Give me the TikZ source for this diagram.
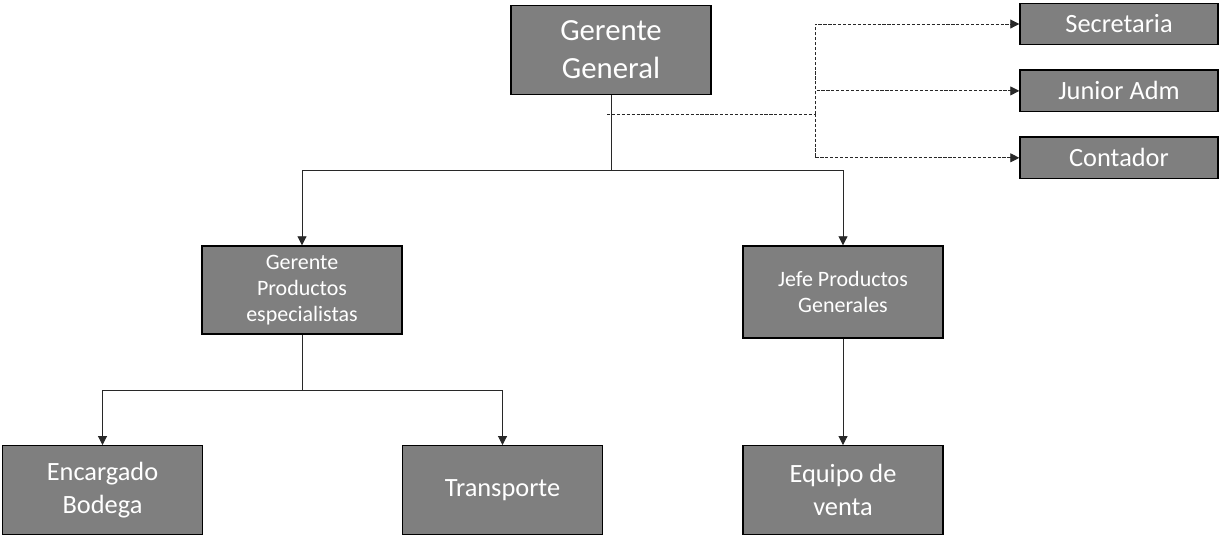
\documentclass[tikz,border=0pt]{standalone}
\usepackage{fontspec}
\setmainfont{Carlito}
\usepackage{tikz}
\usetikzlibrary{arrows.meta,positioning,calc}
\definecolor{boxgray}{RGB}{127,127,127}
\definecolor{linegray}{RGB}{40,40,40}

\begin{document}
\begin{tikzpicture}[
  unit/.style={draw=black, line width=0.8pt, fill=boxgray, text=white, align=center, inner sep=1pt},
  big/.style={unit, minimum width=4cm, minimum height=1.77cm, font=\fontsize{15}{18.5}\selectfont},
  mid/.style={unit, minimum width=4cm, minimum height=1.78cm, font=\fontsize{12.5}{15}\selectfont},
  side/.style={unit, minimum width=3.96cm, minimum height=0.83cm, font=\fontsize{15}{18}\selectfont},
  link/.style={linegray, line width=0.5pt},
  arr/.style={link, -{Triangle[length=1.8mm, width=1.8mm]}},
  dotted line/.style={link, dash pattern=on 1.8pt off 1pt}]
  \useasboundingbox (0,0) rectangle (24.42,-10.7);
  % top
  \node[unit, minimum width=4cm, minimum height=1.78cm, font=\fontsize{17.5}{21.5}\selectfont] (gg) at (12.22,-1.0) {Gerente\\General};
  % staff
  \node[side] (sec) at (22.38,-0.48) {Secretaria};
  \node[side, below=0.48cm of sec] (jun) {Junior Adm};
  \node[side, below=0.48cm of jun] (con) {Contador};
  % second level
  \node[mid, minimum height=1.76cm] (gpe) at (6.04,-5.80) {Gerente\\Productos\\especialistas};
  \node[mid, minimum height=1.84cm] (jpg) at (16.86,-5.84) {Jefe Productos\\Generales};
  % third level
  \node[big] (enc) at (2.05,-9.80) {Encargado\\Bodega};
  \node[big] (tra) at (10.05,-9.80) {Transporte};
  \node[big] (equ) at (16.86,-9.80) {Equipo de\\venta};
  % junctions
  \coordinate (split1) at (12.22,-3.40);
  \coordinate (split2) at (6.04,-7.80);
  \coordinate (dstart) at (12.14,-2.28);
  \coordinate (dsplit) at (16.30,-2.28);
  % lines
  \draw[link] (gg.south) -- (split1);
  \draw[arr] (split1) -| (gpe.north);
  \draw[arr] (split1) -| (jpg.north);
  \draw[link] (gpe.south) -- (split2);
  \draw[arr] (split2) -| (enc.north);
  \draw[arr] (split2) -| (tra.north);
  \draw[arr] (jpg.south) -- (equ.north);
  % staff lines
  \draw[dotted line] (dstart) -- (dsplit);
  \draw[dotted line, arr] (dsplit) |- (sec.west);
  \draw[dotted line, arr] (dsplit) |- (jun.west);
  \draw[dotted line, arr] (dsplit) |- (con.west);
\end{tikzpicture}
\end{document}
